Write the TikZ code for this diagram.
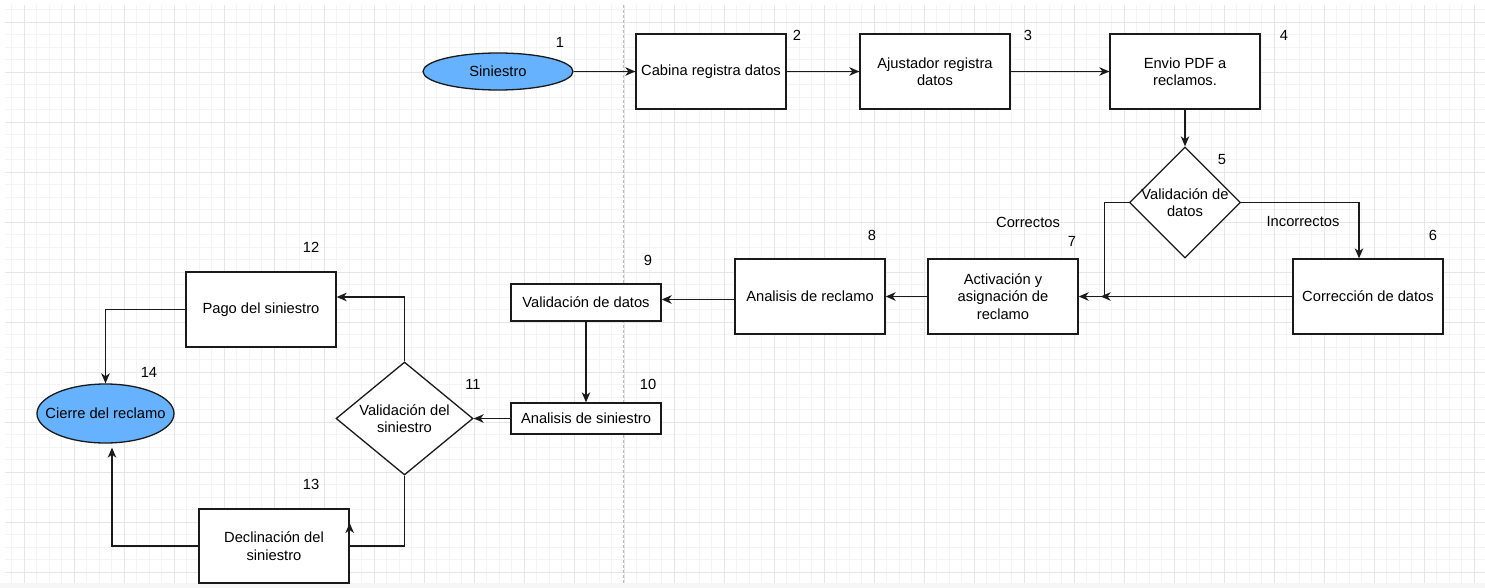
\documentclass[tikz,border=0pt]{standalone}
\usepackage{fontspec}
\setmainfont{Liberation Sans}
\usetikzlibrary{shapes.geometric,arrows.meta,calc}
\definecolor{fillblue}{HTML}{66B2FF}
\definecolor{gridmaj}{HTML}{E6E6E6}
\definecolor{gridmin}{HTML}{F4F4F4}
\definecolor{pagebrk}{HTML}{BBBBBB}
\definecolor{stripgray}{HTML}{F6F6F6}
\definecolor{inkline}{HTML}{1A1A1A}
\begin{document}
\begin{tikzpicture}[x=1pt,y=-1pt,
  every node/.style={font=\fontsize{14.7}{17.5}\selectfont, text=black},
  procbox/.style={draw=inkline, line width=1.3pt, fill=white, minimum width=150pt, minimum height=75pt, inner sep=0pt, align=center},
  decision/.style={diamond, draw=inkline, line width=1.3pt, fill=white, inner sep=0pt, minimum width=111pt, minimum height=111pt},
  startend/.style={ellipse, draw=inkline, line width=1.3pt, fill=fillblue, inner sep=0pt, minimum width=150pt, minimum height=37pt},
  numlab/.style={inner sep=0pt},
  arr/.style={draw=inkline, line width=1.3pt, -{Stealth[length=10pt,width=8.5pt,inset=3pt]}},
  minorline/.style={draw=gridmin, line width=0.8pt},
  majorline/.style={draw=gridmaj, line width=0.9pt},
  pageline/.style={draw=pagebrk, line width=0.8pt, dash pattern=on 3pt off 2pt}]
\useasboundingbox (0,0) rectangle (1485,588);
\fill[white] (0,0) rectangle (1485,588);
\fill[stripgray] (0,583) rectangle (1485,588);
% grid
\foreach \x in {11.5,24,...,1485} {\draw[minorline] (\x,5) -- (\x,583);}
\foreach \y in {9.5,22,...,583} {\draw[minorline] (5,\y) -- (1485,\y);}
\foreach \x in {24,74,...,1485} {\draw[majorline] (\x,5) -- (\x,583);}
\foreach \y in {22,72,...,583} {\draw[majorline] (5,\y) -- (1485,\y);}
\draw[pageline] (623,5) -- (623,583);
% nodes
\node[startend, label={center:Siniestro}] (s1) at (498,71.5) {};
\node[procbox] (b2) at (711,71.5) {Cabina registra datos};
\node[procbox] (b3) at (935,71.5) {Ajustador registra\\datos};
\node[procbox] (b4) at (1185,71.5) {Envio PDF a\\reclamos.};
\node[decision, label={[align=center]center:{Validación de\\datos}}] (d5) at (1185,202.5) {};
\node[procbox] (b6) at (1368,296.5) {Corrección de datos};
\node[procbox] (b7) at (1003,296.5) {Activación y\\asignación de\\reclamo};
\node[procbox] (b8) at (810,296.5) {Analisis de reclamo};
\node[procbox, minimum height=37pt] (b9) at (586,302.5) {Validación de datos};
\node[procbox, minimum height=31pt] (b10) at (586,418.5) {Analisis de siniestro};
\node[decision, minimum width=137pt, minimum height=113pt, label={[align=center]center:{Validación del\\siniestro}}] (d11) at (404.5,418.5) {};
\node[procbox] (b12) at (261,309.5) {Pago del siniestro};
\node[procbox, minimum height=74pt] (b13) at (274,546) {Declinación del\\siniestro};
\node[startend, minimum width=137pt, minimum height=59pt, label={center:Cierre del reclamo}] (e14) at (105.5,413.5) {};
% number labels
\node[numlab] (n1) at (560,42) {1};
\node[numlab] (n2) at (797,35) {2};
\node[numlab] (n3) at (1028,35) {3};
\node[numlab] (n4) at (1284,35) {4};
\node[numlab] (n5) at (1222,160) {5};
\node[numlab] (n6) at (1433,235) {6};
\node[numlab] (n7) at (1072,241) {7};
\node[numlab] (n8) at (872,235) {8};
\node[numlab] (n9) at (648,260) {9};
\node[numlab] (n10) at (648,384) {10};
\node[numlab] (n11) at (473,384) {11};
\node[numlab] (n12) at (311,247) {12};
\node[numlab] (n13) at (311,484) {13};
\node[numlab] (n14) at (149,372) {14};
\node[numlab] (lc) at (1028,222) {Correctos};
\node[numlab] (li) at (1303,222) {Incorrectos};
% helper coordinates
\coordinate (c7b) at ($(b7.east)+(26,0)$);
\coordinate (c7) at ($(b7.east)+(22,0)$);
\coordinate (c14) at ($(e14.south)+(6.5,4)$);
% connectors
\draw[arr] (s1.east) -- (b2.west);
\draw[arr] (b2.east) -- (b3.west);
\draw[arr] (b3.east) -- (b4.west);
\draw[arr] (b4.south) -- (d5.north);
\draw[arr] (d5.east) -| ([xshift=-9pt]b6.north);
\draw[arr] (d5.west) -| (c7b) -- (c7);
\draw[arr] (b6.west) -- (b7.east);
\draw[arr] (b7.west) -- (b8.east);
\draw[arr] (b8.west |- 0,299.5) -- (b9.east |- 0,299.5);
\draw[arr] (b9.south) -- (b10.north);
\draw[arr] (b10.west) -- (d11.east);
\draw[arr] (d11.north) |- ([yshift=12.5pt]b12.east);
\draw[arr] (b12.west) -| (e14.north);
\draw[arr] (d11.south) |- (b13.east) -- ([yshift=23pt]b13.east);
\draw[arr] (b13.west) -| (c14);
\end{tikzpicture}
\end{document}
